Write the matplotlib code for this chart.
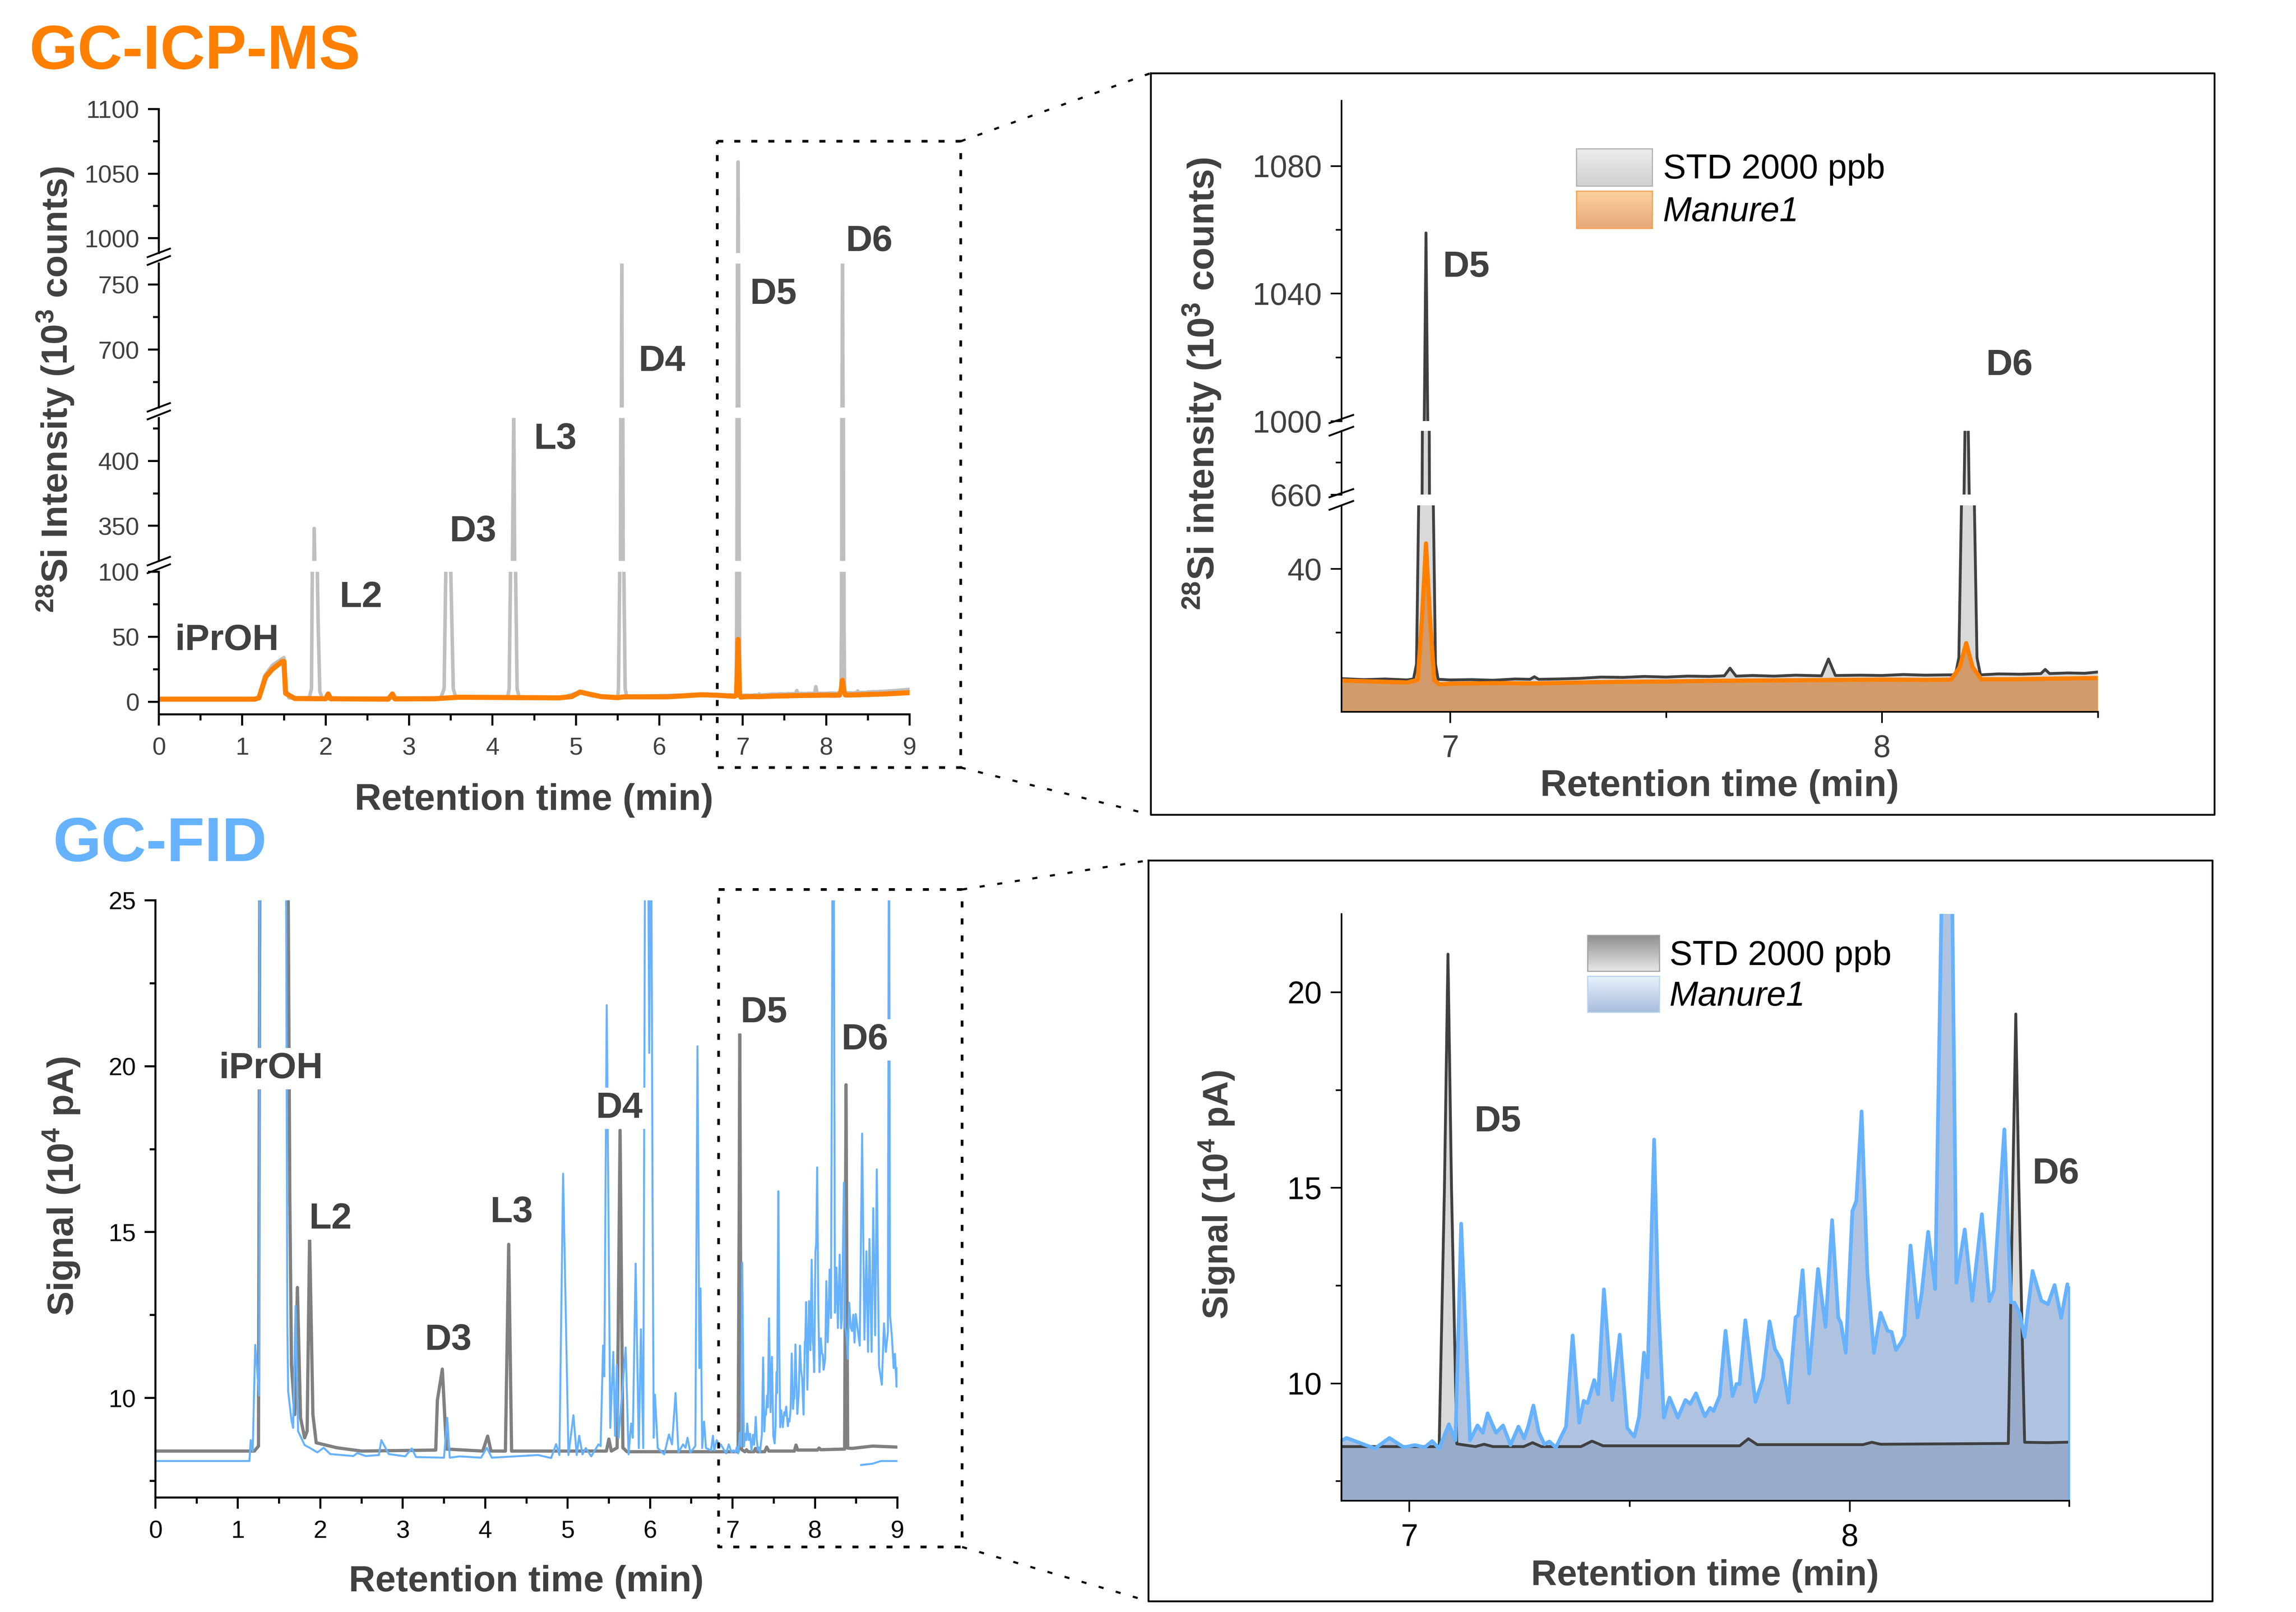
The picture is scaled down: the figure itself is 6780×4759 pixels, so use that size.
import numpy as np
import matplotlib
matplotlib.use('Agg')
import matplotlib.pyplot as plt
from matplotlib.lines import Line2D
from matplotlib.colors import to_rgb

plt.rcParams['font.family'] = ['Liberation Sans', 'DejaVu Sans']
plt.rcParams['mathtext.fontset'] = 'custom'
plt.rcParams['mathtext.rm'] = 'Liberation Sans'
plt.rcParams['mathtext.bf'] = 'Liberation Sans:bold'
plt.rcParams['mathtext.it'] = 'Liberation Sans:italic'

W, H = 6780, 4759
DPI = 300

# GC-ICP-MS traces, 10^3 counts
icp_std_t = [0, 1.15, 1.2, 1.27, 1.36, 1.45, 1.5, 1.52, 1.56, 1.8, 1.83, 1.84, 1.855, 1.863, 1.875, 1.895, 1.91,
             1.93, 1.96, 3.38, 3.42, 3.44, 3.47, 3.5, 3.53, 3.56, 4.18, 4.2, 4.216, 4.24, 4.255, 4.265, 4.277, 4.295,
             4.32, 4.85, 5.05, 5.2, 5.5, 5.51, 5.525, 5.54, 5.55, 5.56, 5.575, 5.59, 5.61, 6.5, 6.75, 6.8, 6.85, 6.9,
             6.915, 6.922, 6.927, 6.935, 6.94, 6.944, 6.948, 6.952, 6.961, 6.966, 6.972, 7.0, 7.05, 7.1, 7.15, 7.185,
             7.195, 7.205, 7.25, 7.3, 7.35, 7.4, 7.45, 7.5, 7.55, 7.6, 7.635, 7.648, 7.662, 7.7, 7.75, 7.8, 7.86,
             7.876, 7.892, 7.95, 8.0, 8.05, 8.1, 8.15, 8.17, 8.178, 8.184, 8.19, 8.196, 8.202, 8.214, 8.22, 8.228,
             8.27, 8.32, 8.368, 8.378, 8.388, 8.43, 8.47, 8.5, 8.7, 9]
icp_std_y = [2, 2, 4, 20, 28, 32, 34, 10, 3, 2.3, 10, 100, 300, 348, 300, 120, 60,
             8, 2.6, 3, 10, 100, 210, 100, 10, 3.5, 3, 10, 100, 330, 440, 330, 100, 10,
             3.5, 3.5, 7.5, 4.5, 3.5, 10, 100, 500, 770, 500, 100, 10, 4, 5.5, 5.4, 5.1, 5.3, 5.0,
             5.3, 10, 60, 660, 1000, 1059, 1000, 660, 60, 10, 5.2, 5.0, 5.1, 4.9, 5.3, 5.2,
             6.0, 5.2, 5.3, 5.5, 5.9, 5.8, 6.1, 5.9, 6.2, 6.1, 6.3, 8.7, 6.2, 6.4, 6.2, 6.5, 6.3,
             11.6, 6.4, 6.5, 6.4, 6.7, 6.5, 6.6, 6.6, 12, 60, 660, 770, 660, 60, 12, 6.6,
             6.9, 6.8, 7.0, 8.3, 7.0, 7.2, 7.1, 7.5, 8, 9.5]
icp_manure_t = [0, 1.15, 1.2, 1.28, 1.36, 1.48, 1.5, 1.52, 1.63, 2.0, 2.03, 2.06, 2.75, 2.8, 2.83, 3.3, 3.6, 4.8, 4.95,
                5.05, 5.15, 5.3, 5.5, 5.58, 6.1, 6.5, 6.7, 6.9, 6.925, 6.935, 6.944, 6.953, 6.963, 6.975, 7.0, 7.1,
                7.2, 7.3, 7.4, 7.5, 7.6, 7.7, 7.8, 7.9, 8.0, 8.1, 8.16, 8.18, 8.195, 8.21, 8.23, 8.3, 8.4, 8.5, 8.7, 9]
icp_manure_y = [2, 2, 3, 19, 25, 31, 31, 6.5, 2.5, 2.3, 6, 2.3, 2, 6, 2.2, 2.3, 3.5, 3, 4,
                7.5, 6, 4, 3.2, 3.8, 3.8, 5.4, 5, 4.2, 5, 25, 48, 25, 5, 3.6, 3.8, 4.0,
                3.9, 4.2, 4.4, 4.5, 4.7, 4.8, 4.9, 5.0, 5.1, 5.0, 5.1, 9, 16.6, 9, 5.2, 5.2, 5.4, 5.6, 6, 7]

# GC-FID traces, 10^4 pA
fid_std_t = [0, 1.2, 1.25, 1.27, 1.6, 1.63, 1.65, 1.69, 1.722, 1.76, 1.81, 1.84, 1.87, 1.91, 1.95, 2.2, 2.5, 3.4, 3.42,
             3.48, 3.53, 3.97, 4.03, 4.07, 4.245, 4.285, 4.32, 5.47, 5.5, 5.53, 5.6, 5.636, 5.67, 5.72, 6.5, 7.068,
             7.08, 7.088, 7.096, 7.108, 7.15, 7.17, 7.19, 7.26, 7.28, 7.3, 7.39, 7.415, 7.44, 7.75, 7.77, 7.79, 8.03,
             8.05, 8.07, 8.36, 8.37, 8.377, 8.384, 8.397, 8.45, 8.7, 9]
fid_std_y = [8.4, 8.4, 8.55, 30, 30, 16, 11, 9.5, 13.33, 9.4, 8.8, 9, 14.9, 9.5, 8.65, 8.5, 8.4, 8.43, 9.93,
             10.87, 8.46, 8.4, 8.85, 8.4, 8.4, 14.63, 8.4, 8.4, 8.76, 8.4, 8.5, 18.07, 8.5, 8.38, 8.38, 8.38,
             15, 20.97, 15, 8.45, 8.38, 8.44, 8.38, 8.38, 8.48, 8.38, 8.38, 8.52, 8.4, 8.4, 8.58, 8.43, 8.43,
             8.49, 8.44, 8.46, 15, 19.44, 15, 8.49, 8.48, 8.55, 8.52]
fid_manure_t = [0, 1.14, 1.156, 1.18, 1.21, 1.258, 1.266, 1.58, 1.6, 1.61, 1.65, 1.67, 1.7, 1.73, 1.81, 1.87, 1.965, 2.04,
                2.12, 2.4, 2.45, 2.55, 2.71, 2.74, 2.83, 3.03, 3.11, 3.16, 3.5, 3.54, 3.57, 3.69, 3.95, 4.02, 4.08, 4.64,
                4.8, 4.86, 4.9, 4.945, 5.01, 5.07, 5.11, 5.14, 5.18, 5.22, 5.286, 5.373, 5.4, 5.43, 5.445, 5.474, 5.517,
                5.554, 5.575, 5.597, 5.618, 5.704, 5.739, 5.77, 5.79, 5.825, 5.863, 5.889, 5.917, 5.943, 5.97, 5.99,
                6.01, 6.03, 6.044, 6.059, 6.093, 6.171, 6.229, 6.266, 6.309, 6.344, 6.4, 6.43, 6.454, 6.488, 6.549,
                6.575, 6.598, 6.612, 6.632, 6.655, 6.678, 6.74, 6.762, 6.779, 6.808, 6.847, 6.858, 6.87, 6.922, 6.955,
                6.988, 7.013, 7.035, 7.052, 7.068, 7.09, 7.105, 7.118, 7.138, 7.155, 7.167, 7.178, 7.197, 7.213, 7.23,
                7.248, 7.261, 7.27, 7.282, 7.294, 7.307, 7.318, 7.333, 7.356, 7.371, 7.386, 7.396, 7.405, 7.42, 7.429,
                7.442, 7.461, 7.478, 7.495, 7.511, 7.522, 7.533, 7.541, 7.556, 7.565, 7.578, 7.591, 7.61, 7.627, 7.638,
                7.651, 7.671, 7.683, 7.691, 7.705, 7.718, 7.734, 7.743, 7.75, 7.763, 7.786, 7.803, 7.818, 7.83, 7.845,
                7.861, 7.877, 7.883, 7.893, 7.908, 7.928, 7.945, 7.96, 7.974, 7.98, 7.991, 8.006, 8.015, 8.027, 8.04,
                8.055, 8.07, 8.086, 8.095, 8.105, 8.117, 8.124, 8.138, 8.154, 8.163, 8.178, 8.194, 8.208, 8.22, 8.233,
                8.242, 8.261, 8.278, 8.3, 8.317, 8.327, 8.351, 8.366, 8.374, 8.386, 8.397, 8.415, 8.435, 8.45, 8.465,
                8.48, 8.494, 8.543, 8.572, 8.6, 8.624, 8.644, 8.661, 8.687, 8.707, 8.73, 8.75, 8.777, 8.811, 8.837,
                8.86, 8.885, 8.898, 8.91, 8.932, 8.955, 8.97, 8.99, 9]
fid_manure_y = [8.1, 8.1, 8.73, 8.4, 11.6, 10.07, 30, 30, 12.2, 10.2, 9.33, 9.1, 12.77, 9.0, 8.58, 8.5, 8.36, 8.5,
                8.31, 8.25, 8.34, 8.25, 8.28, 8.73, 8.31, 8.24, 8.48, 8.22, 8.2, 9.4, 8.2, 8.24, 8.2, 8.5, 8.2, 8.28,
                8.19, 8.61, 8.28, 16.76, 8.28, 9.48, 8.28, 8.86, 8.3, 8.49, 8.24, 8.6, 8.55, 11.58, 10.65, 21.84, 9.1,
                11.39, 8.86, 11.0, 8.8, 11.52, 8.3, 9.23, 8.8, 14.05, 8.49, 12.07, 8.49, 30, 30, 20.4,
                30, 16, 8.8, 10.1, 8.49, 8.3, 8.9, 8.6, 10.15, 8.36, 8.6, 8.5, 8.8, 8.36, 8.55,
                20.6, 10.9, 13.3, 8.49, 9.29, 8.49, 8.42, 8.86, 8.42, 8.73, 8.54, 8.6, 8.55, 8.33, 8.6,
                8.36, 8.42, 8.36, 8.52, 8.33, 8.95, 8.54, 14.08, 8.54, 8.92, 8.73, 9.23, 8.73, 8.92, 8.42,
                8.89, 8.59, 8.89, 9.43, 8.75, 8.44, 8.51, 8.36, 8.89, 11.22, 8.99, 9.55, 9.49, 10.08, 9.72,
                12.4, 9.57, 11.24, 8.85, 8.63, 9.15, 10.78, 10.15, 16.23, 12.14, 9.12, 9.63, 9.12, 9.57, 9.47,
                9.74, 9.15, 9.37, 9.29, 9.68, 11.34, 9.67, 9.98, 9.98, 11.61, 9.52, 10.12, 11.58, 10.88, 10.58,
                9.5, 11.68, 11.74, 12.89, 10.25, 12.92, 11.44, 14.17, 11.68, 11.54, 10.78, 14.4, 14.66, 16.95, 12.8,
                10.78, 11.8, 11.34, 11.31, 10.85, 11.05, 11.21, 13.52, 11.68, 12.27, 13.87, 12.41, 22, 34, 22,
                12.57, 13.93, 12.11, 14.32, 12.1, 12.37, 16.49, 12.07, 12.06, 11.78, 11.18, 12.87, 12.11, 12.02, 12.51,
                11.67, 12.53, 11.58, 17.97, 11.76, 14.42, 11.39, 14.79, 11.39, 15.72, 11.89, 16.89, 10.96, 10.4, 12.25,
                11.39, 12, 30, 12.5, 11.89, 10.9, 11.33, 10.34, 10.9]
fid_tail_t = [8.56, 8.7, 8.8, 9]
fid_tail_y = [7.98, 8.02, 8.1, 8.1]

LABEL_GREY = '#404040'
ORANGE = '#ff8000'
BLUE = '#66b2ff'


def fx(x):
    return x / W


def fy(y):
    return 1 - y / H


def px_axes(l, t, r, b):
    ax = fig.add_axes([fx(l), fy(b), fx(r - l), (b - t) / H])
    ax.patch.set_alpha(0)
    return ax


def style_axis(ax, xlim, ylim, yticks, yminor, tick_size, color, lw, show_x=False, xticks=(), xminor=(), xlabels=()):
    ax.set_xlim(*xlim)
    ax.set_ylim(*ylim)
    ax.spines['top'].set_visible(False)
    ax.spines['right'].set_visible(False)
    ax.spines['left'].set_linewidth(lw)
    ax.spines['bottom'].set_linewidth(lw)
    ax.spines['bottom'].set_visible(show_x)
    ax.set_yticks(yticks)
    ax.set_yticks(yminor, minor=True)
    ax.tick_params(axis='y', which='major', length=7.8, width=lw, labelsize=tick_size, labelcolor=color, pad=6)
    ax.tick_params(axis='y', which='minor', length=4.2, width=lw)
    if show_x:
        ax.set_xticks(xticks)
        ax.set_xticklabels(xlabels)
        ax.set_xticks(xminor, minor=True)
        ax.tick_params(axis='x', which='major', length=7.8, width=lw, labelsize=tick_size, labelcolor=color, pad=8.2)
        ax.tick_params(axis='x', which='minor', length=4.2, width=lw)
    else:
        ax.set_xticks([])


def fig_line(xs, ys, **kw):
    fig.add_artist(Line2D([fx(v) for v in xs], [fy(v) for v in ys], **kw))


def break_mark(x, mid, left, right, half=33):
    for dl, dr in zip(left, right):
        fig_line([x - half, x + half], [mid + dl, mid + dr], color='black', lw=1.3, zorder=6)


def dotted_box(l, t, r, b, frame):
    style = dict(color='black', lw=1.9, dashes=(2.25, 4.1), dash_capstyle='butt', zorder=5)
    fig_line([l, r, r, l, l], [t, t, b, b, t], **style)
    fig_line([r, frame[0]], [t, frame[1]], color='black', lw=1.5, dashes=(2.4, 6), dash_capstyle='butt', zorder=5)
    fig_line([r, frame[0]], [b, frame[3]], color='black', lw=1.5, dashes=(2.4, 6), dash_capstyle='butt', zorder=5)
    fl, ft, fr, fb = frame
    fig_line([fl, fr, fr, fl, fl], [ft, ft, fb, fb, ft], color='black', lw=1.3, zorder=5)


def swatch(l, t, r, b, top, bottom, edge):
    ax = px_axes(l, t, r, b)
    ramp = np.linspace(0, 1, 64)[:, None, None]
    ax.imshow((1 - ramp) * np.array(to_rgb(top)) + ramp * np.array(to_rgb(bottom)), aspect='auto')
    ax.set_xticks([])
    ax.set_yticks([])
    for s in ax.spines.values():
        s.set_color(edge)
        s.set_linewidth(0.8)


def put_text(x, y, s, size=26, bold=True, color=LABEL_GREY, white=False, **kw):
    opts = dict(ha='center', va='center', fontsize=size, color=color, fontweight='bold' if bold else 'normal', zorder=4)
    if white:
        opts['bbox'] = dict(facecolor='white', edgecolor='none', pad=2.5)
    opts.update(kw)
    # horizontal labels sit a little low in the reference
    if opts['va'] == 'center' and 'rotation' not in opts:
        y = y + 8
    fig.text(fx(x), fy(y), s, **opts)


fig = plt.figure(figsize=(W / DPI, H / DPI), dpi=DPI)

# titles
put_text(86, 203, 'GC-ICP-MS', size=44, color=ORANGE, ha='left', va='baseline')
put_text(157, 2542, 'GC-FID', size=44, color=BLUE, ha='left', va='baseline')

# panel A, broken y axis
seg_a = [(322, 747, 988.5, 1100, [1000, 1050, 1100], [1025, 1075]),
         (778, 1203, 655.6, 766, [700, 750], [675, 725]),
         (1234, 1656, 323, 433, [350, 400], [375, 425]),
         (1688, 2109, -9.7, 100, [0, 50, 100], [25, 75])]
for i, (t, b, lo, hi, yt, ym) in enumerate(seg_a):
    ax = px_axes(469, t, 2686, b)
    last = i == len(seg_a) - 1
    style_axis(ax, (0, 9), (lo, hi), yt, ym, 17.5, LABEL_GREY, 1.45, show_x=last,
               xticks=range(10), xminor=np.arange(0.5, 9, 1), xlabels=[str(v) for v in range(10)])
    ax.plot(icp_std_t, icp_std_y, color='#bfbfbf', lw=2.5, solid_joinstyle='round')
    ax.plot(icp_manure_t, icp_manure_y, color=ORANGE, lw=3.6, solid_joinstyle='round')
for mid in (1672, 1218, 762):
    break_mark(469, mid, (20, -3), (-6, -28))

for x, y, s in [(670, 1883, 'iPrOH'), (1066, 1756, 'L2'), (1397, 1562, 'D3'), (1640, 1289, 'L3'),
                (1955, 1059, 'D4'), (2284, 861, 'D5'), (2567, 705, 'D6')]:
    put_text(x, y, s)
put_text(1577, 2355, 'Retention time (min)', size=26.3)
put_text(163, 1150, r'$\mathbf{^{28}}$Si Intensity (10$\mathbf{^{3}}$ counts)', rotation=90)
dotted_box(2118, 417, 2837, 2266, (3398, 216, 6539, 2405))

# inset A, GC-ICP-MS zoom
seg_b = [(297, 1243, 1000, 1100.5, [1000, 1040, 1080], [1020, 1060]),
         (1272, 1460, 660, 699.5, [660], [680]),
         (1492, 2101, -5, 60, [40], [20])]
for i, (t, b, lo, hi, yt, ym) in enumerate(seg_b):
    ax = px_axes(3961, t, 6195, b)
    last = i == len(seg_b) - 1
    style_axis(ax, (6.748, 8.5), (lo, hi), yt, ym, 22, LABEL_GREY, 1.15, show_x=last,
               xticks=[7, 8], xminor=[7.5, 8.5], xlabels=['7', '8'])
    ax.fill_between(icp_std_t, lo, icp_std_y, color='#d9d9d9', lw=0)
    ax.plot(icp_std_t, icp_std_y, color=LABEL_GREY, lw=2, solid_joinstyle='round')
    ax.fill_between(icp_manure_t, lo, icp_manure_y, color='#cc7222', alpha=0.6, lw=0)
    ax.plot(icp_manure_t, icp_manure_y, color=ORANGE, lw=3, solid_joinstyle='round')
    if last:
        ax.plot([8.5, 8.5], [lo, np.interp(8.5, icp_manure_t, icp_manure_y)], color=ORANGE, lw=1.2)
for mid in (1257, 1476):
    break_mark(3961, mid, (29, -8), (3, -32), half=35)

swatch(4655, 439, 4879, 549, '#ececec', '#d0d0d0', '#b0b0b0')
swatch(4655, 564, 4879, 674, '#fdd0a0', '#e5a878', '#f5a050')
put_text(4911, 493, 'STD 2000 ppb', size=24.4, bold=False, color='black', ha='left')
put_text(4911, 619, 'Manure1', size=24.4, bold=False, color='black', ha='left', style='italic')
put_text(4330, 781, 'D5')
put_text(5934, 1071, 'D6')
put_text(5078, 2314, 'Retention time (min)', size=26.3)
put_text(3549, 1134, r'$\mathbf{^{28}}$Si intensity (10$\mathbf{^{3}}$ counts)', size=26.4, rotation=90)

# panel C, GC-FID
ax = px_axes(459, 2658, 2650, 4421)
style_axis(ax, (0, 9), (7, 25), [10, 15, 20, 25], [7.5, 12.5, 17.5, 22.5], 17.5, 'black', 1.45, show_x=True,
           xticks=range(10), xminor=np.arange(0.5, 9, 1), xlabels=[str(v) for v in range(10)])
ax.plot(fid_std_t, fid_std_y, color='#808080', lw=2.3, solid_joinstyle='round')
ax.plot(fid_manure_t, fid_manure_y, color=BLUE, lw=1.4, solid_joinstyle='round')
ax.plot(fid_tail_t, fid_tail_y, color=BLUE, lw=1.4)

for x, y, s in [(800, 3147, 'iPrOH'), (976, 3591, 'L2'), (1324, 3949, 'D3'), (1511, 3572, 'L3'),
                (1829, 3264, 'D4'), (2256, 2982, 'D5'), (2554, 3062, 'D6')]:
    put_text(x, y, s, white=True)
put_text(1554, 4662, 'Retention time (min)')
put_text(182, 3502, r'Signal (10$\mathbf{^{4}}$ pA)', rotation=90)
dotted_box(2122, 2626, 2841, 4567, (3391, 2540, 6533, 4727))

# inset B, GC-FID zoom
ax = px_axes(3961, 2698, 6110, 4430)
style_axis(ax, (6.846, 8.498), (7, 22), [10, 15, 20], [7.5, 12.5, 17.5], 22, 'black', 1.15, show_x=True,
           xticks=[7, 8], xminor=[7.5, 8.498], xlabels=['7', '8'])
ax.fill_between(fid_std_t, 7, fid_std_y, color='#d9d9d9', lw=0)
ax.plot(fid_std_t, fid_std_y, color=LABEL_GREY, lw=2, solid_joinstyle='round')
ax.fill_between(fid_manure_t, 7, fid_manure_y, color='#3769b4', alpha=0.4, lw=0)
ax.plot(fid_manure_t, fid_manure_y, color=BLUE, lw=2.6, solid_joinstyle='round')
for edge in (6.846, 8.498):
    ax.plot([edge, edge], [7, np.interp(edge, fid_manure_t, fid_manure_y)], color=BLUE, lw=1.4, clip_on=False)

swatch(4688, 2761, 4900, 2867, '#8f8f8f', '#e6e6e6', '#a0a0a0')
swatch(4688, 2882, 4900, 2988, '#e8f2fc', '#a8bcdc', '#b8d4f0')
put_text(4930, 2814, 'STD 2000 ppb', size=24.4, bold=False, color='black', ha='left')
put_text(4930, 2935, 'Manure1', size=24.4, bold=False, color='black', ha='left', style='italic')
put_text(4423, 3304, 'D5')
put_text(6071, 3458, 'D6')
put_text(5035, 4645, 'Retention time (min)', size=25.5)
put_text(3593, 3527, r'Signal (10$\mathbf{^{4}}$ pA)', size=25, rotation=90)

fig.savefig('out.png', dpi=DPI)
